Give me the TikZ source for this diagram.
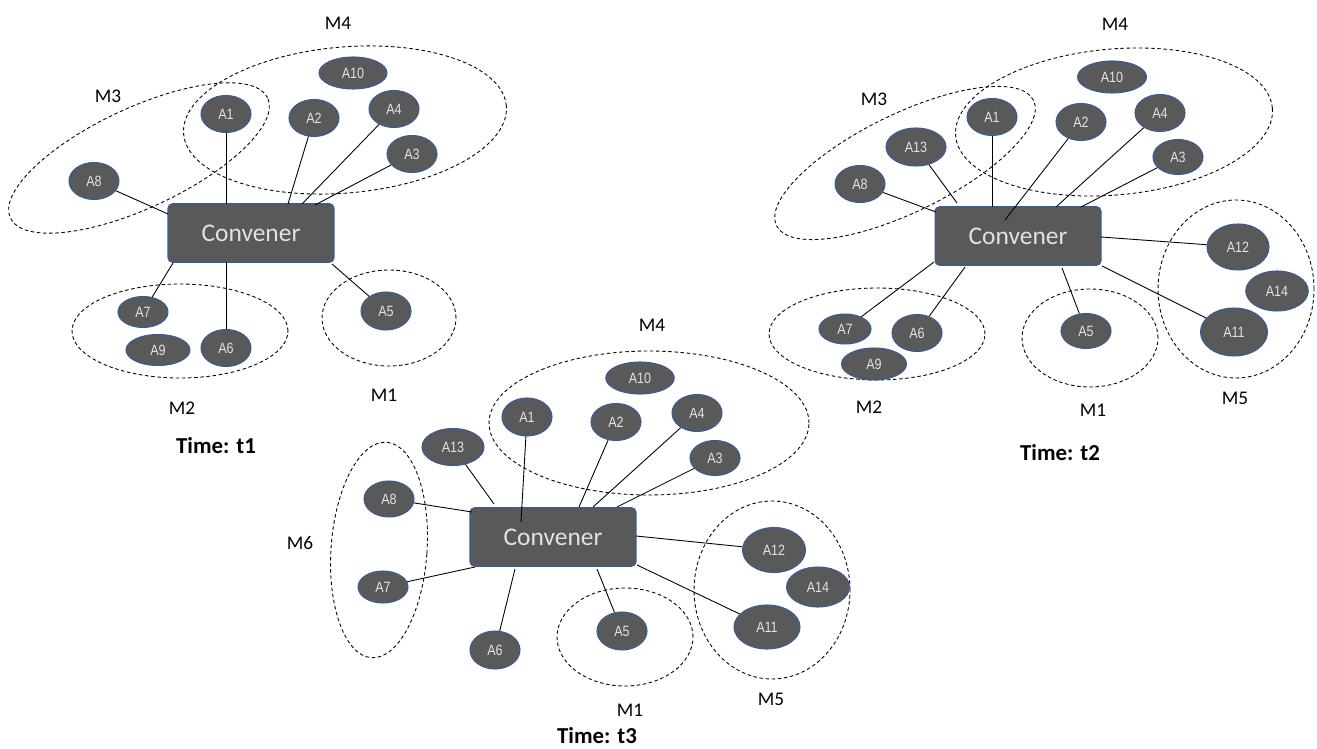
\documentclass[tikz,border=0pt]{standalone}
\usepackage{fontspec}
\usepackage{tikz}
\usetikzlibrary{shapes.geometric}
\setmainfont{Carlito}
\newfontfamily\agentfont[FakeStretch=0.84]{Liberation Sans}
\definecolor{nodegray}{HTML}{595959}
\definecolor{nodeblue}{HTML}{3A5B9A}
\definecolor{labelgray}{HTML}{E2E2E2}

\begin{document}
\begin{tikzpicture}[x=0.02cm,y=-0.02cm]
\tikzstyle{agent}=[ellipse, fill=nodegray, draw=nodeblue, line width=0.6pt, inner sep=0pt,
  minimum width=1cm, minimum height=0.74cm, text=labelgray, font=\agentfont\fontsize{8.5}{9}\selectfont]
\tikzstyle{convener}=[rectangle, rounded corners=2.5pt, fill=nodegray, draw=nodeblue, line width=0.6pt,
  minimum width=3.32cm, minimum height=1.17cm, text=labelgray, font=\fontsize{14.5}{16}\selectfont]
\tikzstyle{group}=[dash pattern=on 2pt off 1.5pt, line width=0.5pt]
\tikzstyle{mlabel}=[font=\fontsize{11}{12}\selectfont]
\tikzstyle{time}=[inner sep=1pt, font=\bfseries\fontsize{13}{14}\selectfont]

\useasboundingbox (0,0) rectangle (1317,749);

% ---- time t1 ----
\draw[group, rotate around={25:(139,158)}] (139,158) ellipse [x radius=2.84cm, y radius=1cm];
\draw[group, rotate around={5:(345,120)}] (345,120) ellipse [x radius=3.24cm, y radius=1.46cm];
\draw[group] (180,331) ellipse [x radius=2.16cm, y radius=0.94cm];
\draw[group] (389,318) ellipse [x radius=1.34cm, y radius=0.96cm];

\node[convener] (cva) at (251,233) {Convener};
\node[agent] (a1) at (226,114) {A1};
\node[agent] (a2) at (314,118) {A2};
\node[agent] (a4) at (394,109) {A4};
\node[agent] (a3) at (412,154) {A3};
\node[agent, minimum width=1.36cm, minimum height=0.64cm] (a10) at (353,73) {A10};
\node[agent] (a8) at (94,181) {A8};
\node[agent, minimum height=0.62cm] (a7) at (143,312) {A7};
\node[agent, minimum width=1.28cm, minimum height=0.62cm] (a9) at (158,350) {A9};
\node[agent] (a6) at (226,348) {A6};
\node[agent, minimum height=0.76cm] (a5) at (386,311) {A5};

\coordinate (pa1) at (226,204);
\coordinate (pa2) at (288,204);
\coordinate (pa4) at (302,204);
\coordinate (pa3) at (315,205);
\coordinate (pa8) at (168,214);
\coordinate (pa7) at (173,263);
\coordinate (pa6) at (226,262);
\coordinate (pa5) at (332,264);

\foreach \from/\to in {a1/pa1,a2/pa2,a4/pa4,a3/pa3,a8/pa8,a7/pa7,a6/pa6,a5/pa5}
\draw [line width=0.5pt] (\from) -- (\to);

\node[mlabel] (m4a) at (338,23) {M4};
\node[mlabel] (m3a) at (108,96) {M3};
\node[mlabel] (m2a) at (182,408) {M2};
\node[mlabel] (m1a) at (384,395) {M1};
\node[time] (ta) at (216,446) {Time: t1};

% ---- time t2 ----
\draw[group, rotate around={26:(905,163)}] (905,163) ellipse [x radius=2.86cm, y radius=0.98cm];
\draw[group, rotate around={5:(1114,122)}] (1114,122) ellipse [x radius=3.18cm, y radius=1.46cm];
\draw[group] (877,334) ellipse [x radius=2.16cm, y radius=0.92cm];
\draw[group] (1090,338) ellipse [x radius=1.36cm, y radius=0.98cm];
\draw[group] (1236,289) ellipse [x radius=1.56cm, y radius=1.78cm];

\node[convener] (cvb) at (1018,236) {Convener};
\node[agent] (b1) at (992,117) {A1};
\node[agent] (b2) at (1081,122) {A2};
\node[agent] (b4) at (1160,113) {A4};
\node[agent, minimum height=0.7cm] (b3) at (1178,157) {A3};
\node[agent, minimum width=1.38cm, minimum height=0.64cm] (b10) at (1112,77) {A10};
\node[agent, minimum width=1.2cm, minimum height=0.76cm] (b13) at (916,147) {A13};
\node[agent] (b8) at (860,184) {A8};
\node[agent, minimum width=1.24cm, minimum height=0.92cm] (b12) at (1238,247) {A12};
\node[agent, minimum width=1.25cm, minimum height=0.8cm] (b14) at (1277,291) {A14};
\node[agent, minimum width=1.34cm, minimum height=0.96cm] (b11) at (1234,332) {A11};
\node[agent, minimum height=0.7cm] (b5) at (1086,331) {A5};
\node[agent, minimum width=1.04cm, minimum height=0.6cm] (b7) at (845,329) {A7};
\node[agent] (b6) at (917,333) {A6};
\node[agent, minimum width=1.3cm, minimum height=0.64cm] (b9) at (874,364) {A9};

\coordinate (pb13) at (957,203);
\coordinate (pb8) at (936,212);
\coordinate (pb1) at (992,207);
\coordinate (pb2) at (1005,220);
\coordinate (pb4) at (1056,207);
\coordinate (pb3) at (1081,207);
\coordinate (pb12) at (1101,237);
\coordinate (pb11) at (1102,266);
\coordinate (pb5) at (1062,268);
\coordinate (pb6) at (965,267);
\coordinate (pb7) at (934,262);

\foreach \from/\to in {b13/pb13,b8/pb8,b1/pb1,b2/pb2,b4/pb4,b3/pb3,b12/pb12,b11/pb11,b5/pb5,b6/pb6,b7/pb7}
\draw [line width=0.5pt] (\from) -- (\to);

\node[mlabel] (m4b) at (1115,24) {M4};
\node[mlabel] (m3b) at (874,99) {M3};
\node[mlabel] (m2b) at (869,407) {M2};
\node[mlabel] (m1b) at (1093,410) {M1};
\node[mlabel] (m5b) at (1235,398) {M5};
\node[time] (tb) at (1060,453) {Time: t2};

% ---- time t3 ----
\draw[group] (649,423) ellipse [x radius=3.2cm, y radius=1.44cm];
\draw[group, rotate around={-4:(379,550)}] (379,550) ellipse [x radius=0.96cm, y radius=2.16cm];
\draw[group] (625,637) ellipse [x radius=1.36cm, y radius=0.98cm];
\draw[group] (772,590) ellipse [x radius=1.56cm, y radius=1.78cm];

\node[convener] (cvc) at (553,537) {Convener};
\node[agent, minimum height=0.76cm] (c1) at (527,417) {A1};
\node[agent] (c2) at (616,422) {A2};
\node[agent] (c4) at (697,413) {A4};
\node[agent, minimum height=0.7cm] (c3) at (715,458) {A3};
\node[agent, minimum width=1.37cm, minimum height=0.64cm] (c10) at (640,378) {A10};
\node[agent, minimum width=1.24cm] (c13) at (453,447) {A13};
\node[agent, minimum height=0.72cm] (c8) at (389,499) {A8};
\node[agent, minimum height=0.64cm] (c7) at (383,587) {A7};
\node[agent, minimum height=0.76cm] (c6) at (495,650) {A6};
\node[agent, minimum height=0.76cm] (c5) at (622,631) {A5};
\node[agent, minimum width=1.26cm, minimum height=0.9cm] (c12) at (774,550) {A12};
\node[agent, minimum width=1.26cm, minimum height=0.8cm] (c14) at (818,587) {A14};
\node[agent, minimum width=1.32cm, minimum height=0.88cm] (c11) at (767,627) {A11};

\coordinate (pc1) at (521,522);
\coordinate (pc2) at (579,507);
\coordinate (pc4) at (593,507);
\coordinate (pc3) at (617,507);
\coordinate (pc13) at (494,504);
\coordinate (pc8) at (472,512);
\coordinate (pc7) at (475,567);
\coordinate (pc6) at (515,569);
\coordinate (pc5) at (597,569);
\coordinate (pc11) at (637,565);
\coordinate (pc12) at (636,536);

\foreach \from/\to in {c1/pc1,c2/pc2,c4/pc4,c3/pc3,c13/pc13,c8/pc8,c7/pc7,c6/pc6,c5/pc5,c11/pc11,c12/pc12}
\draw [line width=0.5pt] (\from) -- (\to);

\node[mlabel] (m4c) at (652,325) {M4};
\node[mlabel] (m6c) at (300,543) {M6};
\node[mlabel] (m1c) at (630,710) {M1};
\node[mlabel] (m5c) at (771,699) {M5};
\node[time] (tc) at (597,736) {Time: t3};

\end{tikzpicture}
\end{document}
